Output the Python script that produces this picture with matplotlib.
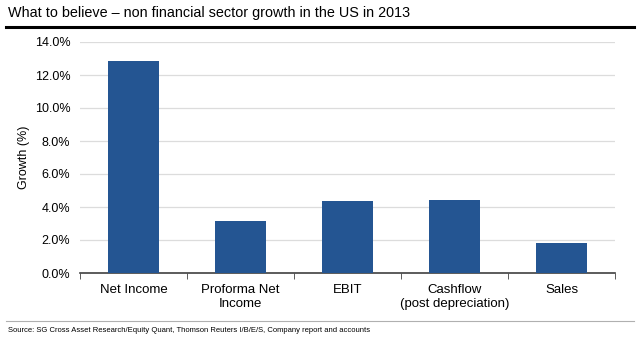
import matplotlib
matplotlib.use("Agg")
import matplotlib.pyplot as plt
import numpy as np

plt.rcParams['font.family'] = ['Liberation Sans', 'DejaVu Sans']

# data
categories = ['Net Income', 'Proforma Net\nIncome', 'EBIT', 'Cashflow\n(post depreciation)', 'Sales']
growth = [12.85, 3.15, 4.35, 4.42, 1.82]
yticks = [0, 2, 4, 6, 8, 10, 12, 14]

fig = plt.figure(figsize=(6.4, 3.44), dpi=100)
ax = fig.add_axes([80/640, 1 - 273/344, 535/640, 231/344])

x = np.arange(len(categories))
ax.bar(x, growth, width=0.48, color='#245592', zorder=3)

ax.set_xlim(-0.5, len(categories) - 0.5)
ax.set_ylim(0, 14)
ax.set_yticks(yticks)
ax.set_yticklabels([f'{v:.1f}%' for v in yticks], fontsize=9)
ax.set_xticks(x)
ax.set_xticklabels(categories, fontsize=9.5)
ax.set_xticks(np.arange(len(categories) + 1) - 0.5, minor=True)
ax.tick_params(axis='x', which='major', length=0, pad=8)
ax.tick_params(axis='x', which='minor', length=4, color='#404040', direction='out')
ax.tick_params(axis='y', length=0, pad=7)
ax.grid(axis='y', color='#dcdcdc', linewidth=0.9, zorder=0)
for s in ['top', 'right', 'left']:
    ax.spines[s].set_visible(False)
ax.spines['bottom'].set_color('#404040')
ax.spines['bottom'].set_linewidth(1.2)
ax.set_ylabel('Growth (%)', fontsize=9, labelpad=3)

fig.text(8/640, 1 - 13/344, 'What to believe \u2013 non financial sector growth in the US in 2013',
         fontsize=10.4, va='center', ha='left')
fig.add_artist(plt.Line2D([6/640, 634/640], [1 - 27/344, 1 - 27/344], color='black', linewidth=2.2))
fig.add_artist(plt.Line2D([6/640, 634/640], [1 - 321/344, 1 - 321/344], color='#b0b0b0', linewidth=0.8))
fig.text(8/640, 1 - 330/344,
         'Source: SG Cross Asset Research/Equity Quant, Thomson Reuters I/B/E/S, Company report and accounts',
         fontsize=5.5, va='center', ha='left')

fig.savefig('out.png', dpi=100)
